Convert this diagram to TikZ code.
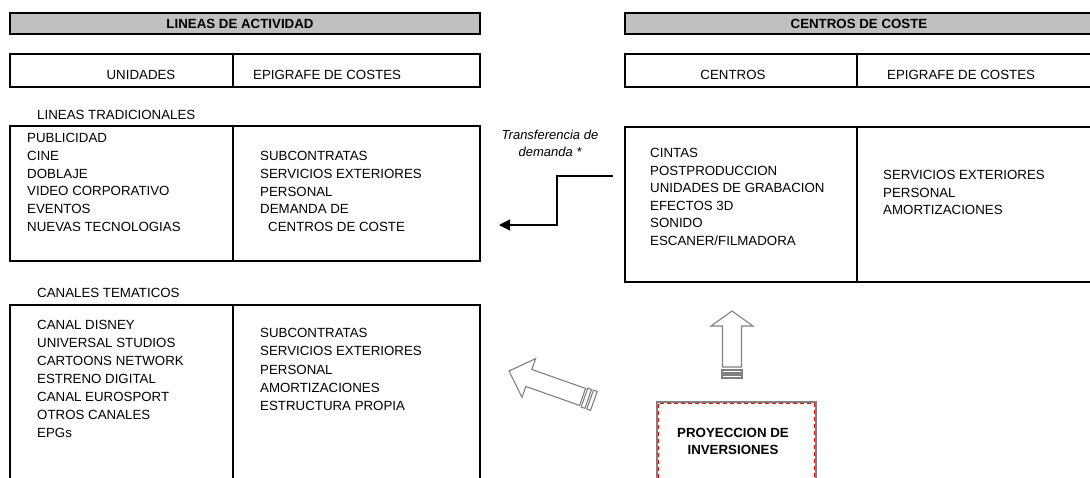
\documentclass[tikz,border=0pt]{standalone}
\usepackage{fontspec}
\setmainfont{Liberation Sans}
\usetikzlibrary{arrows.meta}
\definecolor{hdrgray}{RGB}{192,192,192}
\definecolor{arrgray}{RGB}{128,128,128}
\tikzset{
  frame/.style={draw=black, line width=2.6pt},
  hdr/.style={draw=black, line width=2.6pt, fill=hdrgray},
  txt/.style={inner sep=0pt, font=\fontsize{13.3}{17.7}\selectfont, align=left},
  btxt/.style={inner sep=0pt, font=\fontsize{13.3}{17.7}\selectfont\bfseries, align=center},
  itxt/.style={inner sep=0pt, font=\fontsize{13}{17}\selectfont\itshape, align=center},
  conn/.style={line width=1.2pt, -{Triangle[length=11pt,width=11pt]}},
  fat/.style={draw=arrgray, line width=1.1pt, fill=white, line join=miter},
}
\begin{document}
\begin{tikzpicture}[x=1pt,y=-1pt]
\useasboundingbox (0,0) rectangle (1090,477);
\clip (0,0) rectangle (1090,477);
% ---- headers
\draw[hdr] (10,13) rectangle (480,34);
\node[btxt, anchor=base] (hl) at (240,28.5) {LINEAS DE ACTIVIDAD};
\draw[hdr] (625,13) rectangle (1110,34);
\node[btxt, anchor=base] (hr) at (859,28.5) {CENTROS DE COSTE};
% ---- column titles
\draw[frame] (10,54) rectangle (480,87);
\draw[frame] (233,54) -- (233,87);
\node[txt, anchor=base] (tu) at (141,79.5) {UNIDADES};
\node[txt, anchor=base west] (te) at (253,79.5) {EPIGRAFE DE COSTES};
\draw[frame] (625,54) rectangle (1110,87);
\draw[frame] (857,54) -- (857,87);
\node[txt, anchor=base] (tc) at (733,79.5) {CENTROS};
\node[txt, anchor=base west] (te2) at (887,79.5) {EPIGRAFE DE COSTES};
% ---- lineas tradicionales
\node[txt, anchor=base west] (ltr) at (37,119.7) {LINEAS TRADICIONALES};
\draw[frame] (10,126) rectangle (480,261);
\draw[frame] (233,126) -- (233,261);
\node[txt, anchor=base west] (l1) at (27,231.2) {PUBLICIDAD\\CINE\\DOBLAJE\\VIDEO CORPORATIVO\\EVENTOS\\NUEVAS TECNOLOGIAS};
\node[txt, anchor=base west] (r1) at (260,231.5) {SUBCONTRATAS\\SERVICIOS EXTERIORES\\PERSONAL\\DEMANDA DE\\\hspace*{8pt}CENTROS DE COSTE};
% ---- canales tematicos
\node[txt, anchor=base west] (ctm) at (37,297.7) {CANALES TEMATICOS};
\draw[frame] (10,305) rectangle (480,495);
\draw[frame] (233,305) -- (233,495);
\node[txt, anchor=base west, font=\fontsize{13.3}{17.9}\selectfont] (l2) at (37,437.1) {CANAL DISNEY\\UNIVERSAL STUDIOS\\CARTOONS NETWORK\\ESTRENO DIGITAL\\CANAL EUROSPORT\\OTROS CANALES\\EPGs};
\node[txt, anchor=base west, font=\fontsize{13.3}{18.2}\selectfont] (r2) at (260,410.5) {SUBCONTRATAS\\SERVICIOS EXTERIORES\\PERSONAL\\AMORTIZACIONES\\ESTRUCTURA PROPIA};
% ---- centros de coste box
\draw[frame] (625,127) rectangle (1110,282);
\draw[frame] (857,127) -- (857,282);
\node[txt, anchor=base west, font=\fontsize{13.3}{17.5}\selectfont] (c1) at (650,245.2) {CINTAS\\POSTPRODUCCION\\UNIDADES DE GRABACION\\EFECTOS 3D\\SONIDO\\ESCANER/FILMADORA};
\node[txt, anchor=base west, font=\fontsize{13.3}{17.5}\selectfont] (c2) at (883,214.7) {SERVICIOS EXTERIORES\\PERSONAL\\AMORTIZACIONES};
% ---- transferencia
\node[itxt, anchor=base] (tr) at (550,156.5) {Transferencia de\\demanda *};
\coordinate (cs) at (613,176);
\coordinate (ce) at (499,225);
\draw[conn] (cs) -- (557,176) -- (557,225) -- (ce);
% ---- proyeccion box
\draw[draw=arrgray, line width=1.6pt] (657,402) rectangle (816,495);
\draw[draw=red, line width=1.4pt, dash pattern=on 4pt off 3pt] (658.5,403.5) rectangle (814.5,495);
\node[btxt, anchor=base] (pi) at (733,454.7) {PROYECCION DE\\INVERSIONES};
% ---- up arrow
\begin{scope}[shift={(732,311)}, rotate=-90]
  \draw[fat] (0,0) -- (15,21) -- (15,9.5) -- (56,9.5) -- (56,-9.5) -- (15,-9.5) -- (15,-21) -- cycle;
  \draw[fat] (59,10) rectangle (62,-10);
  \draw[fat] (64,10) rectangle (67,-10);
\end{scope}
% ---- diagonal arrow
\begin{scope}[shift={(509,371)}, rotate=-19.4]
  \draw[fat] (0,0) -- (21,20.5) -- (21,9) -- (78,9) -- (78,-9) -- (21,-9) -- (21,-20.5) -- cycle;
  \draw[fat] (80,10) rectangle (84,-10);
  \draw[fat] (86,10) rectangle (90,-10);
\end{scope}
\end{tikzpicture}
\end{document}
